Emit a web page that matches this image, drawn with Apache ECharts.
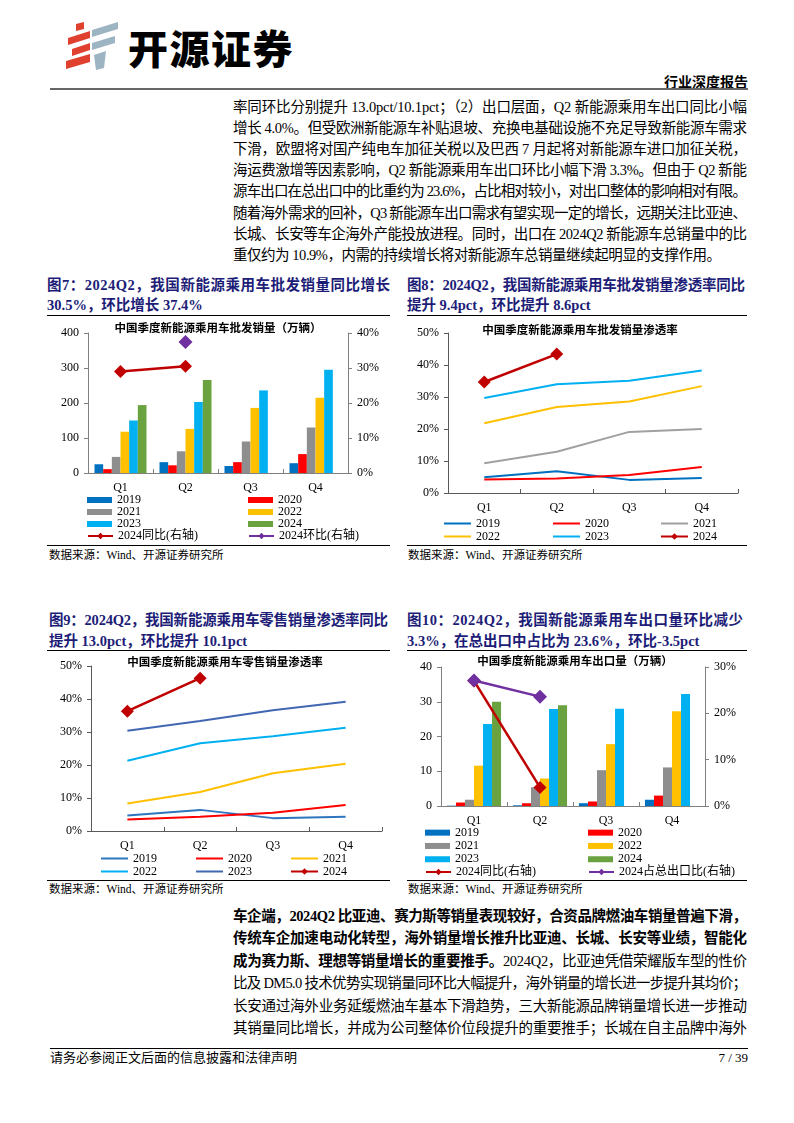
<!DOCTYPE html>
<html><head><meta charset="utf-8">
<script src="https://cdn.jsdelivr.net/npm/echarts@6/dist/echarts.min.js"></script>
<style>
body{margin:0;background:#fff;}
#page{position:relative;width:794px;height:1123px;overflow:hidden;background:#fff;font-family:"Liberation Serif","Noto Sans CJK SC",serif;color:#000;}
.tl{position:absolute;white-space:nowrap;line-height:20px;}
.body{font-size:14.5px;}
.foot{font-size:13px;}
.ft{font-size:14.5px;font-weight:bold;color:#1d1d78;}
.src{font-size:11.5px;}
.hr{position:absolute;background:#000;height:1px;}
.chart{position:absolute;}
</style></head>
<body><div id="page">
<svg style="position:absolute;left:60px;top:18px" width="70" height="56" viewBox="0 0 70 56">
  <g fill="#E0402E">
    <polygon points="16,6 24,4 24,11 16,13"/>
    <polygon points="8,20 30,13 30,20 8,27"/>
    <polygon points="12,31 30,25 30,32 12,38"/>
    <polygon points="6,43 30,36 30,44 6,51"/>
  </g>
  <g fill="#9DB4C3">
    <polygon points="32,12 58,4 58,11 32,19"/>
    <polygon points="32,25 55,18 55,25 32,32"/>
    <polygon points="34,37 46,33 44,50 36,52"/>
  </g>
</svg>
<div class="tl" style="left:128px;top:22px;font-family:'Noto Sans CJK SC',sans-serif;font-weight:900;font-size:40px;line-height:50px;letter-spacing:1.5px;">开源证券</div>
<div class="tl" style="right:46px;top:71px;font-family:'Noto Sans CJK SC',sans-serif;font-weight:bold;font-size:14px;">行业深度报告</div>
<div class="hr" style="left:50px;top:88px;width:698px;height:1.5px;background:#666;"></div>

<div class="hr" style="left:47px;top:315px;width:343px;"></div>
<div class="hr" style="left:407px;top:315px;width:340px;"></div>
<div class="hr" style="left:47px;top:545px;width:343px;"></div>
<div class="hr" style="left:407px;top:545px;width:340px;"></div>
<div class="hr" style="left:47px;top:650px;width:343px;"></div>
<div class="hr" style="left:407px;top:650px;width:340px;"></div>
<div class="hr" style="left:47px;top:880px;width:343px;"></div>
<div class="hr" style="left:407px;top:880px;width:340px;"></div>
<div class="hr" style="left:50px;top:1048px;width:698px;"></div>

<div id="c1" class="chart" style="left:50px;top:318px;width:345px;height:226px;"></div>
<div id="c2" class="chart" style="left:400px;top:318px;width:350px;height:226px;"></div>
<div id="c3" class="chart" style="left:50px;top:652px;width:345px;height:227px;"></div>
<div id="c4" class="chart" style="left:400px;top:652px;width:350px;height:227px;"></div>
</div>
<script>
// ---------- data ----------
const quarters = ['Q1', 'Q2', 'Q3', 'Q4'];
// Fig 7: wholesale sales (万辆)
const wholesale2019 = [25, 31, 20, 28];
const wholesale2020 = [11, 22, 31, 54];
const wholesale2021 = [46, 62, 90, 130];
const wholesale2022 = [118, 126, 186, 215];
const wholesale2023 = [150, 203, 236, 295];
const wholesale2024 = [194, 266, null, null];
const wholesaleYoy2024 = [29.0, 30.5, null, null];
const wholesaleQoq2024 = [null, 37.4, null, null];
// Fig 8: wholesale penetration (%)
const wpen2019 = [4.9, 6.8, 4.1, 4.7];
const wpen2020 = [4.2, 4.5, 5.6, 8.1];
const wpen2021 = [9.3, 12.9, 19.1, 20.0];
const wpen2022 = [21.8, 26.9, 28.6, 33.4];
const wpen2023 = [29.7, 34.0, 35.1, 38.3];
const wpen2024 = [34.7, 43.4, null, null];
// Fig 9: retail penetration (%)
const rpen2019 = [4.7, 6.4, 3.9, 4.3];
const rpen2020 = [3.5, 4.3, 5.5, 7.9];
const rpen2021 = [8.3, 11.8, 17.5, 20.4];
const rpen2022 = [21.3, 26.6, 28.7, 31.3];
const rpen2023 = [30.4, 33.3, 36.6, 39.2];
const rpen2024 = [36.3, 46.3, null, null];
// Fig 10: exports (万辆)
const export2019 = [0.1, 0.2, 0.8, 1.8];
const export2020 = [1.0, 0.8, 1.3, 3.0];
const export2021 = [1.8, 5.4, 10.3, 11.1];
const export2022 = [11.6, 7.9, 17.8, 27.3];
const export2023 = [23.6, 27.9, 28.0, 32.2];
const export2024 = [30.0, 29.0, null, null];
const exportYoy2024 = [27.0, 4.0, null, null];
const exportShare2024 = [27.1, 23.6, null, null];

const leftTicks400 = {min: 0, max: 400, interval: 100};
const rightTicks40 = {min: 0, max: 40, interval: 10};
const pctTicks50 = {min: 0, max: 50, interval: 10};
const leftTicks40 = {min: 0, max: 40, interval: 10};
const rightTicks30 = {min: 0, max: 30, interval: 10};

// ---------- text ----------
const page = document.getElementById('page');
const fitList = [];
function addLine(html, cls, left, cy, target) {
  const d = document.createElement('div');
  d.className = 'tl ' + cls;
  d.innerHTML = html;
  d.style.left = left + 'px';
  d.style.top = (cy - 10) + 'px';
  page.appendChild(d);
  if (target) fitList.push([d, target]);
  return d;
}
function fitAll() {
  fitList.forEach(([el, target]) => {
    el.style.letterSpacing = '0px';
    const w0 = el.getBoundingClientRect().width;
    const n = [...el.textContent].length;
    el.style.letterSpacing = ((target - w0) / (n - 1)) + 'px';
  });
}
const topPara = [
  '率同环比分别提升 13.0pct/10.1pct；（2）出口层面，Q2 新能源乘用车出口同比小幅',
  '增长 4.0%。但受欧洲新能源车补贴退坡、充换电基础设施不充足导致新能源车需求',
  '下滑，欧盟将对国产纯电车加征关税以及巴西 7 月起将对新能源车进口加征关税，',
  '海运费激增等因素影响，Q2 新能源乘用车出口环比小幅下滑 3.3%。但由于 Q2 新能',
  '源车出口在总出口中的比重约为 23.6%，占比相对较小，对出口整体的影响相对有限。',
  '随着海外需求的回补，Q3 新能源车出口需求有望实现一定的增长，远期关注比亚迪、',
  '长城、长安等车企海外产能投放进程。同时，出口在 2024Q2 新能源车总销量中的比',
  '重仅约为 10.9%，内需的持续增长将对新能源车总销量继续起明显的支撑作用。'
];
topPara.forEach((t, i) => addLine(t, 'body', 233, 107 + i * 21.1, i === 7 ? 488 : 514));
const botPara = [
  '<b>车企端，2024Q2 比亚迪、赛力斯等销量表现较好，合资品牌燃油车销量普遍下滑，</b>',
  '<b>传统车企加速电动化转型，海外销量增长推升比亚迪、长城、长安等业绩，智能化</b>',
  '<b>成为赛力斯、理想等销量增长的重要推手。</b>2024Q2，比亚迪凭借荣耀版车型的性价',
  '比及 DM5.0 技术优势实现销量同环比大幅提升，海外销量的增长进一步提升其均价；',
  '长安通过海外业务延缓燃油车基本下滑趋势，三大新能源品牌销量增长进一步推动',
  '其销量同比增长，并成为公司整体价位段提升的重要推手；长城在自主品牌中海外'
];
botPara.forEach((t, i) => addLine(t, 'body', 233, 916 + i * 22.4, 514));

addLine('图7：2024Q2，我国新能源乘用车批发销量同比增长', 'ft', 47, 285, 343);
addLine('30.5%，环比增长 37.4%', 'ft', 47, 305);
addLine('图8：2024Q2，我国新能源乘用车批发销量渗透率同比', 'ft', 407, 285, 338);
addLine('提升 9.4pct，环比提升 8.6pct', 'ft', 407, 305);
addLine('图9：2024Q2，我国新能源乘用车零售销量渗透率同比', 'ft', 49, 620, 339);
addLine('提升 13.0pct，环比提升 10.1pct', 'ft', 49, 641);
addLine('图10：2024Q2，我国新能源乘用车出口量环比减少', 'ft', 407, 620, 336);
addLine('3.3%，在总出口中占比为 23.6%，环比-3.5pct', 'ft', 407, 641);
addLine('数据来源：Wind、开源证券研究所', 'src', 49, 555);
addLine('数据来源：Wind、开源证券研究所', 'src', 408, 555);
addLine('数据来源：Wind、开源证券研究所', 'src', 49, 889);
addLine('数据来源：Wind、开源证券研究所', 'src', 408, 889);
addLine('请务必参阅正文后面的信息披露和法律声明', 'foot', 50, 1058, 247);
const pn = addLine('7 / 39', 'foot', 0, 1058);
pn.style.left = ''; pn.style.right = '46px';
fitAll();
if (document.fonts && document.fonts.ready) document.fonts.ready.then(fitAll);

// ---------- charts ----------
const FONT = '"Liberation Serif","Noto Sans CJK SC",serif';
const TFONT = '"Noto Sans CJK SC",sans-serif';
const C = {y19: '#0070C0', y20: '#FF0000', gray: '#8E8E8E', yel: '#FFC000', lb: '#00B0F0', grn: '#6AA23F', dred: '#C00000', pur: '#7030A0', slate: '#4167B2', blue3: '#2E75C0'};

function titleGraphic(text, x, y) {
  return [{type: 'text', x: x, y: y, style: {text: text, fontSize: 11.5, fontWeight: 'bold', fontFamily: TFONT, fill: '#000', textAlign: 'center', textVerticalAlign: 'middle'}}];
}
function xAxisCfg(col) {
  return {type: 'category', data: quarters,
    axisLine: {lineStyle: {color: col, width: 1}},
    axisTick: {show: true, inside: true, length: 4, lineStyle: {color: col}},
    axisLabel: {color: '#000', fontSize: 12, fontFamily: FONT, margin: 9}};
}
function yAxisCfg(ticks, col, fmt, pos) {
  return Object.assign({type: 'value', position: pos || 'left', splitLine: {show: false},
    axisLine: {show: true, lineStyle: {color: col, width: 1}},
    axisTick: {show: true, length: 4, lineStyle: {color: col}},
    axisLabel: {color: '#000', fontSize: 12, fontFamily: FONT, margin: 9, formatter: fmt || '{value}'}}, ticks);
}
function legendCfg(data, left, top, opts) {
  return Object.assign({data: data, orient: 'vertical', left: left, top: top, padding: 0, itemGap: 0,
    itemWidth: 25, itemHeight: 6, selectedMode: false,
    textStyle: {fontSize: 12, fontFamily: FONT, color: '#000', lineHeight: 12}}, opts || {});
}
// legend entry for a plain line (no marker in the icon)
function plain(name) { return {name: name, itemStyle: {opacity: 0}}; }
function bar(name, data, color, gap) {
  return {name: name, type: 'bar', data: data, itemStyle: {color: color}, barGap: '0%', barCategoryGap: gap};
}
function line(name, data, color, width, withSymbol, axis) {
  return {name: name, type: 'line', data: data, yAxisIndex: axis || 0,
    symbol: withSymbol ? 'diamond' : 'none', symbolSize: 13, showSymbol: !!withSymbol,
    lineStyle: {color: color, width: width}, itemStyle: {color: color}, emphasis: {disabled: true}};
}
const lg13 = {itemWidth: 27, itemHeight: 8, textStyle: {fontSize: 12, fontFamily: FONT, color: '#000', lineHeight: 13}};

// Chart 1
echarts.init(document.getElementById('c1')).setOption({
  animation: false,
  grid: {left: 38, top: 15, width: 260, height: 140},
  graphic: titleGraphic('中国季度新能源乘用车批发销量（万辆）', 168, 10),
  xAxis: xAxisCfg('#808080'),
  yAxis: [yAxisCfg(leftTicks400, '#808080'), yAxisCfg(rightTicks40, '#808080', '{value}%', 'right')],
  legend: [
    legendCfg(['2019', '2021', '2023'], 37, 176, {icon: 'rect'}),
    legendCfg(['2020', '2022', '2024'], 198, 176, {icon: 'rect'}),
    legendCfg(['2024同比(右轴)'], 37, 212, {itemHeight: 8}),
    legendCfg(['2024环比(右轴)'], 198, 212, {itemHeight: 8})
  ],
  series: [
    bar('2019', wholesale2019, C.y19, '20%'),
    bar('2020', wholesale2020, C.y20, '20%'),
    bar('2021', wholesale2021, C.gray, '20%'),
    bar('2022', wholesale2022, C.yel, '20%'),
    bar('2023', wholesale2023, C.lb, '20%'),
    bar('2024', wholesale2024, C.grn, '20%'),
    line('2024同比(右轴)', wholesaleYoy2024, C.dred, 2.5, true, 1),
    Object.assign(line('2024环比(右轴)', wholesaleQoq2024, C.pur, 2.5, true, 1), {symbolSize: 14})
  ]
});

// Chart 2
echarts.init(document.getElementById('c2')).setOption({
  animation: false,
  grid: {left: 48, top: 15, width: 290, height: 160},
  graphic: titleGraphic('中国季度新能源乘用车批发销量渗透率', 180, 12),
  xAxis: xAxisCfg('#595959'),
  yAxis: yAxisCfg(pctTicks50, '#595959', '{value}%'),
  legend: [
    legendCfg([plain('2019'), plain('2022')], 43, 199, lg13),
    legendCfg([plain('2020'), plain('2023')], 152, 199, lg13),
    legendCfg([plain('2021'), '2024'], 260, 199, lg13)
  ],
  series: [
    line('2019', wpen2019, C.y19, 2, false),
    line('2020', wpen2020, C.y20, 2, false),
    line('2021', wpen2021, '#A0A0A0', 2, false),
    line('2022', wpen2022, C.yel, 2, false),
    line('2023', wpen2023, C.lb, 2, false),
    line('2024', wpen2024, C.dred, 2.5, true)
  ]
});

// Chart 3
echarts.init(document.getElementById('c3')).setOption({
  animation: false,
  grid: {left: 41, top: 14, width: 291, height: 165},
  graphic: titleGraphic('中国季度新能源乘用车零售销量渗透率', 175, 10),
  xAxis: xAxisCfg('#595959'),
  yAxis: yAxisCfg(pctTicks50, '#595959', '{value}%'),
  legend: [
    legendCfg([plain('2019'), plain('2022')], 50, 200, lg13),
    legendCfg([plain('2020'), plain('2023')], 145, 200, lg13),
    legendCfg([plain('2021'), '2024'], 240, 200, lg13)
  ],
  series: [
    line('2019', rpen2019, C.blue3, 2, false),
    line('2020', rpen2020, C.y20, 2, false),
    line('2021', rpen2021, C.yel, 2, false),
    line('2022', rpen2022, C.lb, 2, false),
    line('2023', rpen2023, C.slate, 2, false),
    line('2024', rpen2024, C.dred, 2.5, true)
  ]
});

// Chart 4
echarts.init(document.getElementById('c4')).setOption({
  animation: false,
  grid: {left: 41, top: 15, width: 264, height: 139},
  graphic: titleGraphic('中国季度新能源乘用车出口量（万辆）', 175, 9),
  xAxis: xAxisCfg('#808080'),
  yAxis: [yAxisCfg(leftTicks40, '#808080'), yAxisCfg(rightTicks30, '#808080', '{value}%', 'right')],
  legend: [
    legendCfg(['2019', '2021', '2023'], 25, 174, {icon: 'rect', textStyle: {fontSize: 12, fontFamily: FONT, color: '#000', lineHeight: 13.3}}),
    legendCfg(['2020', '2022', '2024'], 188, 174, {icon: 'rect', textStyle: {fontSize: 12, fontFamily: FONT, color: '#000', lineHeight: 13.3}}),
    legendCfg(['2024同比(右轴)'], 25, 214, {itemHeight: 8}),
    legendCfg(['2024占总出口比(右轴)'], 188, 214, {itemHeight: 8})
  ],
  series: [
    bar('2019', export2019, C.y19, '18%'),
    bar('2020', export2020, C.y20, '18%'),
    bar('2021', export2021, C.gray, '18%'),
    bar('2022', export2022, C.yel, '18%'),
    bar('2023', export2023, C.lb, '18%'),
    bar('2024', export2024, C.grn, '18%'),
    line('2024同比(右轴)', exportYoy2024, C.dred, 2.5, true, 1),
    Object.assign(line('2024占总出口比(右轴)', exportShare2024, C.pur, 2.5, true, 1), {symbolSize: 14})
  ]
});
</script>
</body></html>
